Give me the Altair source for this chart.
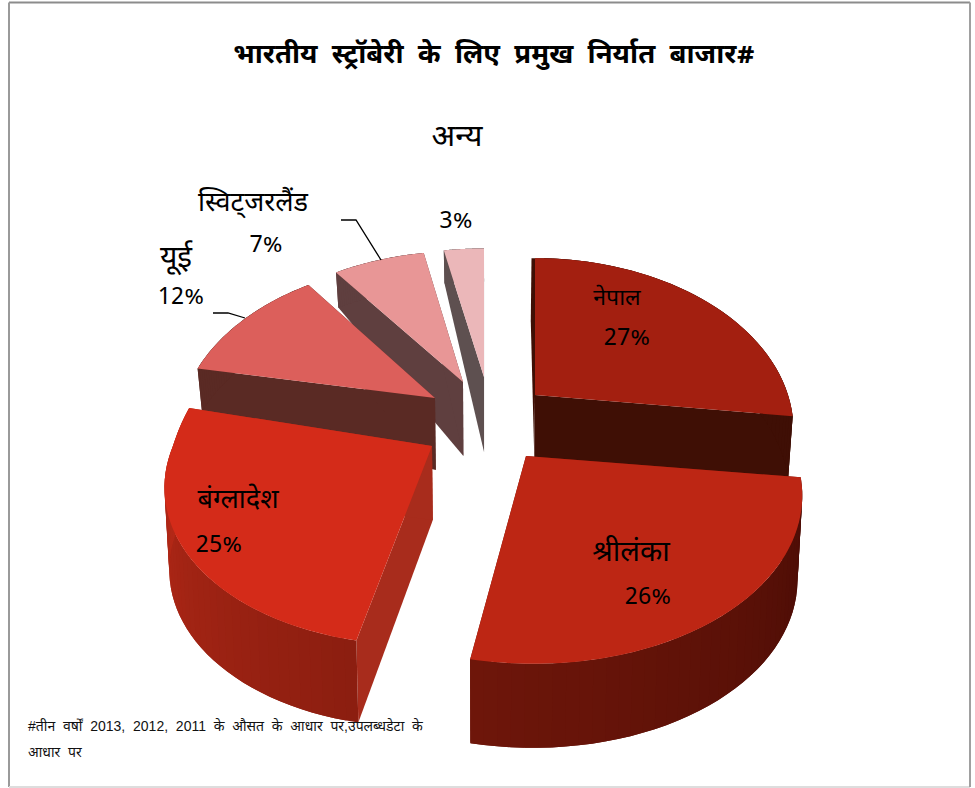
import math
import numpy as np
import pandas as pd
import altair as alt

# Export share by market, clockwise from twelve o'clock
markets = ["नेपाल", "श्रीलंका", "बंग्लादेश", "यूई", "स्विट्जरलैंड", "अन्य"]
shares = [27, 26, 25, 12, 7, 3]
top_colors = ["#a31f10", "#bd2614", "#d42b19", "#dc5f5b", "#e89696", "#ebb7b9"]
wall_first = ["#3f0f05", "#4a0c05", "#8c1e10", "#5a2a24", "#5f3f3f", "#5e5050"]
wall_last = ["#3f0f05", "#6e160a", "#ba2a18", "#5a2a24", "#5f3f3f", "#5e5050"]
radial_colors = ["#3f0f05", "#6e160a", "#a82c1c", "#5a2a24", "#5f3f3f", "#5e5050"]

# Exploded slice tips and extrusion, per market
tip_x = [535, 526, 432, 435, 463, 484]
tip_y = [395, 456, 446, 398, 382, 377]
rim_width = [253, 269, 259, 251, 252, 258]
rim_back = [165, 165, 211, 163, 158, 155]
rim_front = [165, 165, 158, 165, 165, 165]
rim_shear = [0, -6, 12, 0, 0, 0]
depth_tip = [63, 74, 74, 72, 74, 75]
depth_rim = [63, 84, 82, 43, 35, 33]
cut_lean = [-3.5, 0, 0, 0, 0, 0]
draw_order = [5, 4, 3, 0, 2, 1]

PERSPECTIVE = 0.206
VANISH_X = 487
SQUEEZE = 0.985


def rim_point(i, theta):
    u, v = math.sin(theta), math.cos(theta)
    w = 1 + PERSPECTIVE * v
    height = rim_back[i] if v > 0 else rim_front[i]
    return [tip_x[i] + (rim_width[i] * u + rim_shear[i] * v) / w, tip_y[i] - height * v / w]


def lowered(pt, depth):
    return [VANISH_X + (pt[0] - VANISH_X) * SQUEEZE, pt[1] + depth]


def mix(c1, c2, t):
    a = [int(c1[k:k + 2], 16) for k in (1, 3, 5)]
    b = [int(c2[k:k + 2], 16) for k in (1, 3, 5)]
    return "#" + "".join(f"{round(x + (y - x) * t):02x}" for x, y in zip(a, b))


def face(ring, color):
    return {
        "type": "Feature",
        "geometry": {"type": "Polygon", "coordinates": [ring + [ring[0]]]},
        "properties": {"color": color},
    }


edges = np.cumsum([0] + shares) / sum(shares) * 2 * math.pi
features = []
for i in draw_order:
    start, end = edges[i], edges[i + 1]
    tip = [tip_x[i], tip_y[i]]
    tip_low = lowered(tip, depth_tip[i])
    # the two cut faces; the first one may lean outward past the top face
    for theta, lean in ((start, cut_lean[i]), (end, 0)):
        p = rim_point(i, theta)
        low = lowered(p, depth_rim[i])
        ring = [tip, p, [p[0] + lean, p[1]], [low[0] + lean, low[1]], tip_low]
        features.append(face(ring, radial_colors[i]))
    # the curved outer wall, in narrow shaded strips that overlap their neighbour
    steps = np.linspace(start, end, 41)
    for k in range(40):
        arc = [rim_point(i, t) for t in steps[k:k + 3]]
        ring = arc + [lowered(p, depth_rim[i]) for p in reversed(arc)]
        features.append(face(ring, mix(wall_first[i], wall_last[i], k / 39)))
    # the flat top
    ring = [tip] + [rim_point(i, t) for t in np.linspace(start, end, 80)]
    features.append(face(ring, top_colors[i]))

pie = (
    alt.Chart(alt.Data(values=features))
    .mark_geoshape(strokeWidth=0, strokeOpacity=0)
    .encode(fill=alt.Color("properties.color:N", scale=None))
    .project(type="identity", scale=1, translate=[0, 0])
)

DEVANAGARI = "Noto Sans Devanagari, Noto Sans, Lohit Devanagari, sans-serif"
GAP = "\u00a0 "

labels = pd.DataFrame(
    {
        "text": markets + [f"{s}%" for s in shares],
        "x": [617, 631, 238, 176, 253, 457, 627, 648, 219, 181, 266, 456],
        "y": [298, 552, 500, 258, 203, 137, 338, 597, 545, 297, 245, 221],
        "size": [23, 29, 27, 30, 27, 31, 24, 24, 24, 24, 24, 24],
    }
)
label_layer = (
    alt.Chart(labels)
    .mark_text(font=DEVANAGARI, color="black", align="center", baseline="middle")
    .encode(
        x=alt.X("x:Q", scale=None),
        y=alt.Y("y:Q", scale=None),
        text="text:N",
        size=alt.Size("size:Q", scale=None),
    )
)

notes = pd.DataFrame(
    {
        "text": [GAP.join(["भारतीय", "स्ट्रॉबेरी", "के", "लिए", "प्रमुख", "निर्यात", "बाजार#"])],
        "x": [494],
        "y": [55],
    }
)
title_layer = (
    alt.Chart(notes)
    .mark_text(font=DEVANAGARI, fontWeight="bold", fontSize=27.5, color="black", align="center", baseline="middle")
    .encode(x=alt.X("x:Q", scale=None), y=alt.Y("y:Q", scale=None), text="text:N")
)

footnotes = pd.DataFrame(
    {
        "text": [
            GAP.join(["#तीन", "वर्षों", "2013,", "2012,", "2011", "के", "औसत", "के", "आधार", "पर,उपलब्धडेटा", "के"]),
            GAP.join(["आधार", "पर"]),
        ],
        "x": [28, 28],
        "y": [727, 753],
    }
)
foot_layer = (
    alt.Chart(footnotes)
    .mark_text(font="Liberation Sans, " + DEVANAGARI, fontSize=14, color="#111111", align="left", baseline="middle")
    .encode(x=alt.X("x:Q", scale=None), y=alt.Y("y:Q", scale=None), text="text:N")
)

leaders = pd.DataFrame(
    {
        "group": ["eu", "eu", "eu", "ch", "ch", "ch"],
        "step": [0, 1, 2, 0, 1, 2],
        "x": [213, 228, 245, 341, 356, 381],
        "y": [313, 313, 318, 220, 220, 260],
    }
)
leader_layer = (
    alt.Chart(leaders)
    .mark_line(color="black", strokeWidth=1.3)
    .encode(
        x=alt.X("x:Q", scale=None),
        y=alt.Y("y:Q", scale=None),
        detail="group:N",
        order="step:Q",
    )
)

frame = pd.DataFrame(
    {
        "x": [9, 9, 9, 970],
        "x2": [970, 9, 970, 970],
        "y": [2.5, 2.5, 787, 2.5],
        "y2": [2.5, 787, 787, 787],
        "color": ["#8c8c8c", "#9a9a9a", "#dddddd", "#a0a0a0"],
    }
)
frame_layer = (
    alt.Chart(frame)
    .mark_rule(strokeWidth=2)
    .encode(
        x=alt.X("x:Q", scale=None),
        x2="x2:Q",
        y=alt.Y("y:Q", scale=None),
        y2="y2:Q",
        color=alt.Color("color:N", scale=None),
    )
)

chart = (
    alt.layer(frame_layer, pie, leader_layer, title_layer, label_layer, foot_layer)
    .properties(width=975, height=788, padding=0, autosize=alt.AutoSizeParams(type="none"), background="white")
    .configure_view(stroke=None)
    .configure_axis(disable=True)
)

chart.save("out.html", embed_options={"renderer": "svg", "actions": False})
